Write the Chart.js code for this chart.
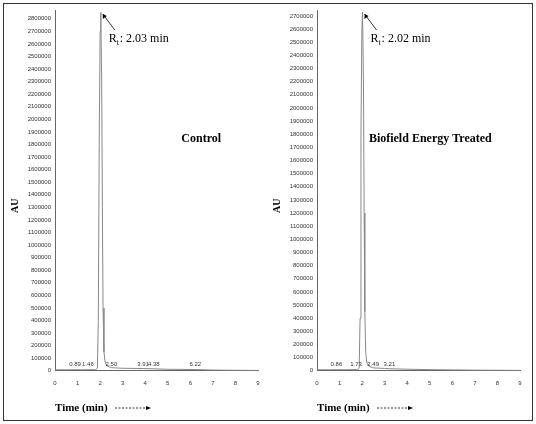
<!DOCTYPE html><html><head><script src="https://cdn.jsdelivr.net/npm/chart.js@4"></script>
<style>body{margin:0;background:#fff}#frame{position:absolute;left:3px;top:3px;width:528px;height:416px;border:1px solid #333}
canvas{position:absolute}</style></head><body><div id="frame"></div>
<div style="position:absolute;left:0;top:0;width:268px;height:424px"><canvas id="c1"></canvas></div>
<div style="position:absolute;left:262px;top:0;width:268px;height:424px"><canvas id="c2"></canvas></div>
<script>
const timesA=[0,0.5,0.89,1.2,1.46,1.8,1.88,1.92,1.96,2.0,2.03,2.07,2.1,2.13,2.17,2.22,2.3,2.5,3,3.91,4.38,5,6.22,7,8,9];
const auA=[8000,8000,9000,8000,9000,9000,20000,400000,1800000,2700000,2850000,2300000,1300000,500000,150000,70000,40000,25000,20000,18000,16000,12000,10000,6000,4000,3000];
const timesB=[0,0.5,0.86,1.2,1.73,1.8,1.87,1.91,1.95,1.99,2.02,2.06,2.09,2.12,2.16,2.21,2.3,2.49,3,3.21,4,5,6,7,8,9];
const auB=[8000,8000,9000,8000,9000,9000,20000,400000,1800000,2600000,2730000,2200000,1200000,450000,140000,60000,35000,22000,18000,16000,12000,9000,7000,5000,4000,3000];
const peaksA=[0.89,1.46,2.50,3.91,4.38,6.22];
const peaksB=[0.86,1.73,2.49,3.21];
function mk(id,t,v,ymax,ytop,peaks,title,rt,rtx){
 const ann={id:'ann',afterDraw(c){const g=c.ctx,x=c.scales.x,y=c.scales.y;g.save();
  g.fillStyle='#000';g.font='bold 12px "Liberation Serif"';g.fillText(title,x.getPixelForValue(rtx),142);
  g.font='12px "Liberation Serif"';const px=x.getPixelForValue(rt);
  g.fillText('R',px+8,42);g.font='8px "Liberation Serif"';g.fillText('t',px+16,45);
  g.font='12px "Liberation Serif"';g.fillText(': '+rt.toFixed(2)+' min',px+19,42);
  g.strokeStyle='#000';g.lineWidth=0.8;g.beginPath();g.moveTo(px+14,30);g.lineTo(px+2,14);g.stroke();
  g.beginPath();g.moveTo(px+2,14);g.lineTo(px+2,19);g.lineTo(px+6,16);g.closePath();g.fill();
  g.font='6px Arial';g.fillStyle='#333';g.textAlign='center';peaks.forEach(p=>g.fillText(p.toFixed(2),x.getPixelForValue(p),y.getPixelForValue(0)-5));g.textAlign='left';
  g.font='bold 11px "Liberation Serif"';g.fillStyle='#000';g.fillText('Time (min)',x.left,411);
  g.strokeStyle='#000';g.setLineDash([2,1.5]);g.beginPath();g.moveTo(x.left+60,408);g.lineTo(x.left+93,408);g.stroke();g.setLineDash([]);
  g.beginPath();g.moveTo(x.left+96,408);g.lineTo(x.left+91,406);g.lineTo(x.left+91,410);g.closePath();g.fill();
  g.save();g.translate(18,205);g.rotate(-Math.PI/2);g.font='bold 10px "Liberation Serif"';g.fillText('AU',-8,0);g.restore();
  g.restore();}};
 new Chart(document.getElementById(id),{type:'line',data:{datasets:[{data:t.map((a,i)=>({x:a,y:v[i]})),borderColor:'#888',borderWidth:1,borderJoinStyle:'round',pointRadius:0,tension:0,segment:{borderColor:()=>'#888'}}]},
 options:{responsive:true,maintainAspectRatio:false,animation:false,layout:{padding:{top:10,right:10,bottom:36,left:22}},
 plugins:{legend:{display:false},tooltip:{enabled:false}},
 scales:{x:{type:'linear',min:0,max:9,grid:{display:false,drawTicks:true},border:{color:'#666'},ticks:{stepSize:1,font:{size:6},color:'#333',padding:1}},
 y:{min:0,max:ytop,grid:{display:false,tickLength:3},border:{color:'#666'},afterFit(s){s.width=33},
  afterBuildTicks(s){const a=[];for(let k=0;k<=ymax;k+=100000)a.push({value:k});s.ticks=a;},
  ticks:{autoSkip:false,font:{size:6},color:'#333',padding:1,callback:v=>String(v)}}}},plugins:[ann]});
}
mk('c1',timesA,auA,2800000,2870000,peaksA,'Control',2.03,5.6);
mk('c2',timesB,auB,2700000,2745000,peaksB,'Biofield Energy Treated',2.02,2.3);
</script></body></html>
